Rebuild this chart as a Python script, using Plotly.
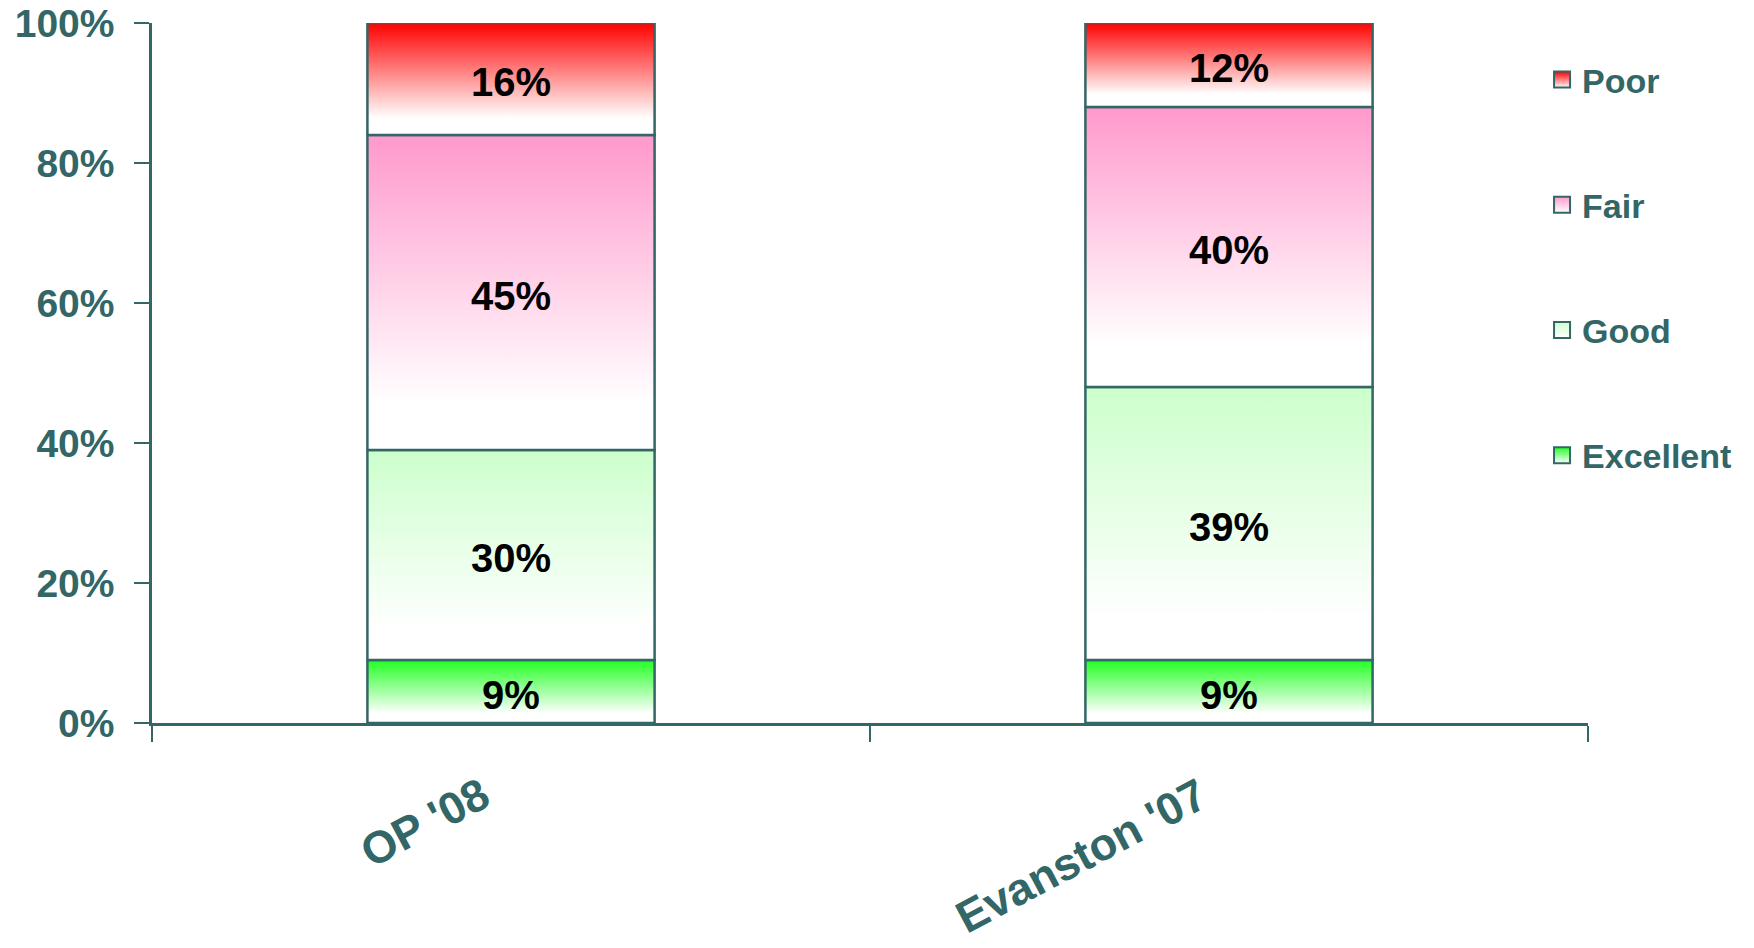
import plotly.graph_objects as go

# data
categories = ["OP '08", "Evanston '07"]
series_names = ["Excellent", "Good", "Fair", "Poor"]
excellent = [9, 9]
good = [30, 39]
fair = [45, 40]
poor = [16, 12]
y_ticks = [0, 20, 40, 60, 80, 100]
y_ticktext = ["0%", "20%", "40%", "60%", "80%", "100%"]

TEAL = "#336666"
TOP_COLOURS = ["#22FF22", "#CCFFCC", "#FF99CC", "#FF0000"]
FONT = "Liberation Sans, Arial, sans-serif"
BAR_WIDTH = 0.40

values = [excellent, good, fair, poor]

fig = go.Figure()

# stacked segments drawn as filled boxes so they can carry a vertical gradient
for ci, cat in enumerate(categories):
    base = 0
    for si, name in enumerate(series_names):
        v = values[si][ci]
        top = base + v
        x0, x1 = ci - BAR_WIDTH / 2, ci + BAR_WIDTH / 2
        fig.add_trace(
            go.Scatter(
                x=[x0, x1, x1, x0, x0],
                y=[base, base, top, top, base],
                mode="lines",
                fill="toself",
                fillgradient=dict(
                    type="vertical",
                    start=base,
                    stop=top,
                    colorscale=[[0, "#FFFFFF"], [0.15, "#FFFFFF"], [1, TOP_COLOURS[si]]],
                ),
                line=dict(color=TEAL, width=2.5),
                hoverinfo="skip",
                showlegend=False,
            ))
        base = top

# data labels at the middle of each segment
for ci in range(len(categories)):
    base = 0
    for si in range(len(series_names)):
        v = values[si][ci]
        fig.add_annotation(
            x=ci, y=base + v / 2, text=f"{v}%", showarrow=False, yshift=-3,
            font=dict(family=FONT, size=40, color="black", weight=700))
        base += v

# legend entries, Poor on top
for si in reversed(range(len(series_names))):
    name = series_names[si]
    fig.add_trace(
        go.Scatter(
            x=[None], y=[None], mode="markers", name=name,
            legendgroup=name,
            marker=dict(symbol="square", size=18, color=TOP_COLOURS[si],
                        gradient=dict(type="vertical", color="#FFFFFF"),
                        line=dict(color=TEAL, width=2)),
        ))

# rotated category labels
for ci, cat in enumerate(categories):
    fig.add_annotation(
        x=ci, xref="x", y=0, yref="paper",
        text=cat, showarrow=False, textangle=-28,
        xanchor="right", yanchor="top", xshift=-11, yshift=-42,
        font=dict(family=FONT, size=45, color=TEAL, weight=700),
    )

fig.update_layout(
    width=1754, height=948,
    margin=dict(l=152, r=166, t=23, b=225, autoexpand=False),
    plot_bgcolor="white", paper_bgcolor="white",
    font=dict(family=FONT, color=TEAL),
    showlegend=True,
    legend=dict(x=0.968, xanchor="left", y=0.96, yanchor="top",
                traceorder="grouped", tracegroupgap=78,
                font=dict(family=FONT, size=34, color=TEAL, weight=700),
                bgcolor="rgba(0,0,0,0)"),
)

fig.update_xaxes(
    range=[-0.5, 1.5], tickvals=[0, 1], ticktext=["", ""],
    ticks="", automargin=False,
    showline=True, linecolor=TEAL, linewidth=2.5, showgrid=False, zeroline=False,
    minor=dict(tickmode="array", tickvals=[-0.5, 0.5, 1.5], ticks="outside",
               ticklen=16, tickwidth=2, tickcolor=TEAL, showgrid=False),
)
fig.update_yaxes(
    range=[0, 100], tickvals=y_ticks, ticktext=y_ticktext,
    ticks="outside", ticklen=15, tickwidth=2, tickcolor=TEAL,
    ticklabelstandoff=12, automargin=False, ticklabeloverflow="allow",
    tickfont=dict(family=FONT, size=39, color=TEAL, weight=700),
    showline=True, linecolor=TEAL, linewidth=2.5, showgrid=False, zeroline=False,
)

# drop the browser's default page margin so the figure sits at the window corner
fig.write_html("out.html", config={"displayModeBar": False},
               post_script="document.body.style.margin = '0';")
